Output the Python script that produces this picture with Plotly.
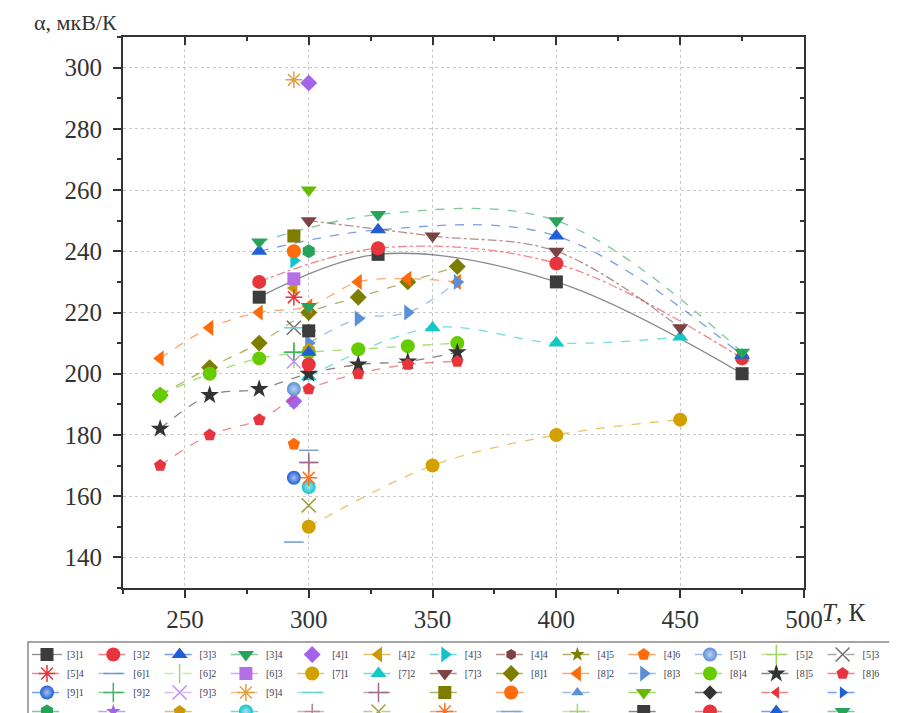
import plotly.graph_objects as go

# ---------------- data ----------------
SERIES_NAMES = ['[3]1', '[3]2', '[3]3', '[3]4', '[4]1', '[4]2', '[4]3', '[4]4', '[4]5', '[4]6', '[5]1', '[5]2', '[5]3',
                '[5]4', '[6]1', '[6]2', '[6]3', '[7]1', '[7]2', '[7]3', '[8]1', '[8]2', '[8]3', '[8]4', '[8]5', '[8]6',
                '[9]1', '[9]2', '[9]3', '[9]4', '', '', '', '', '', '', '', '', '',
                '', '', '', '', '', '', '', '', '', '', '', '', '']

T8 = [240, 260, 280, 300, 320, 340, 360]
T3 = [280, 328, 400, 475]
T7 = [300, 350, 400, 450]

SERIES_T = [
    T3, T3, T3, T3, [300, 294], [294], [294], [300], [294], [294], [294], [294], [294],
    [294], [294], [294], [294], T7, T7, T7, T8, T8, [300, 320, 340, 360], T8, T8, T8,
    [294], [294], [294], [294], [294], [300], [294], [294], [300], [300], [300], [300], [300],
    [300], [294], [300], [300], [300], [300], [300], [300], [294], [300], [300], [300], [300],
]
SERIES_A = [
    [225, 239, 230, 200], [230, 241, 236, 205], [240, 247, 245, 206], [243, 252, 250, 207],
    [295, 191], [228], [237], [240], [245], [177], [195], [207], [215],
    [225], [145], [205], [231], [150, 170, 180, 185], [199, 215, 210, 212], [250, 245, 240, 215],
    [193, 202, 210, 220, 225, 230, 235], [205, 215, 220, 222, 230, 231, 230], [210, 218, 220, 230],
    [193, 200, 205, 207, 208, 209, 210], [182, 193, 195, 200, 203, 204, 207], [170, 180, 185, 195, 200, 203, 204],
    [166], [207], [204], [296], [215], [171], [245], [240], [207], [260], [214], [201], [210],
    [240], [191], [208], [163], [171], [157], [166], [175], [207], [214], [203], [207], [222],
]
# series hidden behind other marks in the picture (drawn first, a bit smaller)
HIDDEN = [7, 8, 34, 36, 37, 38, 40, 43, 47]

X_TICKS = [250, 300, 350, 400, 450, 500]
Y_TICKS = [140, 160, 180, 200, 220, 240, 260, 280, 300]

# ---------------- styles ----------------
STYLE = [
    ('#3c3c3c', 'square'), ('#e8343c', 'circle'), ('#1f5fd8', 'triangle-up'), ('#27a35a', 'triangle-down'),
    ('#a463e8', 'diamond'), ('#cc9a00', 'triangle-left'), ('#11c4cc', 'triangle-right'), ('#7b4343', 'hexagon'),
    ('#7d7d00', 'star'), ('#ff6a0a', 'pentagon'), ('#5b8fd6', 'sphere'), ('#a4d468', 'cross-thin-open'),
    ('#707070', 'x-thin-open'),
    ('#e8343c', 'asterisk-open'), ('#6c9ad8', 'line-ew-open'), ('#a4d468', 'line-ns-open'), ('#b46ee6', 'square'),
    ('#d4a000', 'circle'), ('#14c8c8', 'triangle-up'), ('#7b4343', 'triangle-down'), ('#7d7d00', 'diamond'),
    ('#ff6a0a', 'triangle-left'), ('#5b8fd6', 'triangle-right'), ('#66cc00', 'circle'), ('#333333', 'star'),
    ('#e8343c', 'pentagon'),
    ('#1f5fd8', 'sphere'), ('#3cb464', 'cross-thin-open'), ('#c090f0', 'x-thin-open'), ('#e0a040', 'asterisk-open'),
    ('#66d0d0', 'line-ew-open'), ('#a06888', 'cross-thin-open'), ('#7d7d00', 'square'), ('#ff6a0a', 'circle'),
    ('#5b8fd6', 'triangle-up'), ('#66bb00', 'triangle-down'), ('#333333', 'diamond'), ('#e8343c', 'triangle-left'),
    ('#1f5fd8', 'triangle-right'),
    ('#27a35a', 'hexagon'), ('#a463e8', 'star'), ('#cc9a00', 'pentagon'), ('#11c4cc', 'sphere'),
    ('#c08098', 'cross-thin-open'), ('#a0a040', 'x-thin-open'), ('#ff7020', 'asterisk-open'),
    ('#80a0d8', 'line-ew-open'), ('#a4d468', 'cross-thin-open'), ('#3c3c3c', 'square'), ('#e8343c', 'circle'),
    ('#1f5fd8', 'triangle-up'), ('#27a35a', 'triangle-down'),
]
DASH = {0: 'solid', 1: 'dashdot', 2: 'dash', 3: 'dash', 17: 'dash', 18: 'dash', 19: 'dashdot',
        20: 'dash', 21: 'dash', 22: 'dash', 23: 'dash', 24: 'dash', 25: 'dash'}


def rgba(h, a):
    h = h.lstrip('#')
    return 'rgba(%d,%d,%d,%.2f)' % (int(h[0:2], 16), int(h[2:4], 16), int(h[4:6], 16), a)


def lighten(h, f):
    h = h.lstrip('#')
    c = [int(h[k:k + 2], 16) for k in (0, 2, 4)]
    c = [int(v + (255 - v) * f) for v in c]
    return '#%02x%02x%02x' % tuple(c)


OFF = 8  # page body margin of the browser
W, H = 897, 713
L, R, TOP, BOT = 123 - OFF, 804 - OFF, 37 - OFF, 588 - OFF
PW, PH = R - L, BOT - TOP
NCOL = 13


def px_x(x):
    return (x - OFF - L) / PW


def px_y(y):
    return (BOT - (y - OFF)) / PH


fig = go.Figure()
order = HIDDEN + [i for i in range(len(SERIES_NAMES)) if i not in HIDDEN]
for i in order:
    name = SERIES_NAMES[i]
    col, sym = STYLE[i]
    size = 14
    marker = dict(color=col, line=dict(width=0, color=col))
    if sym == 'sphere':
        marker['symbol'] = 'circle'
        marker['gradient'] = dict(type='radial', color=lighten(col, 0.6))
    else:
        marker['symbol'] = sym
        if sym.endswith('-open'):
            marker['line'] = dict(width=1.5, color=col)
        if sym in ('square', 'diamond', 'pentagon'):
            size = 13
    if i in HIDDEN:
        size = 11
    marker['size'] = size
    mode = 'markers' if i == 4 else 'lines+markers'
    leg = 'legend' if (i % NCOL) == 0 else 'legend%d' % (i % NCOL + 1)
    fig.add_trace(go.Scatter(
        x=SERIES_T[i], y=SERIES_A[i], name=name, mode=mode,
        line=dict(color=rgba(col, 0.6), width=1.3, shape='spline', dash=DASH.get(i, 'dash')),
        marker=marker, legend=leg, legendrank=i + 1, showlegend=True,
    ))

# carrier for the mirrored (inside) ticks on the top and right frame
fig.add_trace(go.Scatter(x=[], y=[], xaxis='x2', yaxis='y2', showlegend=False, hoverinfo='skip'))

# legends laid out as 13 columns x 4 rows
legends = {}
for j in range(NCOL):
    key = 'legend' if j == 0 else 'legend%d' % (j + 1)
    legends[key] = dict(
        x=px_x(27 + 66.3 * j), xanchor='left',
        y=px_y(640), yanchor='top',
        orientation='v', bgcolor='rgba(0,0,0,0)', borderwidth=0,
        tracegroupgap=0, traceorder='normal',
        font=dict(family='Liberation Serif', size=10, color='#3b3b55'),
    )

axis_font = dict(family='Liberation Serif', size=25, color='#333333')
minor_x = dict(dtick=25, tick0=225, ticklen=4, tickwidth=1.5, tickcolor='#333', showgrid=False)
minor_y = dict(dtick=10, tick0=130, ticklen=4, tickwidth=1.5, tickcolor='#333', showgrid=False)
fig.update_layout(
    width=W, height=H,
    margin=dict(l=L, r=W - R, t=TOP, b=H - BOT, autoexpand=False),
    paper_bgcolor='white', plot_bgcolor='white',
    showlegend=True,
    xaxis=dict(range=[225, 500], tickvals=X_TICKS, ticks='outside', ticklen=8, tickwidth=2,
               tickcolor='#333', showline=True, linewidth=2, linecolor='#333', mirror=True,
               showgrid=True, gridcolor='#c8c8c8', griddash='dot', gridwidth=1,
               tickfont=axis_font, zeroline=False, minor=dict(ticks='outside', **minor_x)),
    yaxis=dict(range=[130, 310], tickvals=Y_TICKS, ticks='outside', ticklen=8, tickwidth=2,
               tickcolor='#333', showline=True, linewidth=2, linecolor='#333', mirror=True,
               showgrid=True, gridcolor='#c8c8c8', griddash='dot', gridwidth=1,
               tickfont=axis_font, zeroline=False, ticklabelstandoff=6,
               minor=dict(ticks='outside', **minor_y)),
    xaxis2=dict(overlaying='x', side='top', anchor='y2', range=[225, 500], tickvals=X_TICKS, ticks='inside',
                ticklen=8, tickwidth=2, tickcolor='#333', showticklabels=False, showgrid=False,
                zeroline=False, showline=False, minor=dict(ticks='inside', **minor_x)),
    yaxis2=dict(overlaying='y', side='right', anchor='x2', range=[130, 310], tickvals=Y_TICKS, ticks='inside',
                ticklen=8, tickwidth=2, tickcolor='#333', showticklabels=False, showgrid=False,
                zeroline=False, showline=False, minor=dict(ticks='inside', **minor_y)),
    annotations=[
        dict(text='α, мкВ/К', xref='paper', yref='paper', x=px_x(118), y=px_y(8.5),
             xanchor='right', yanchor='top', showarrow=False, borderpad=0,
             font=dict(family='Liberation Serif', size=22, color='#333')),
        dict(text='<i>T</i>, К', xref='paper', yref='paper', x=px_x(820), y=px_y(612),
             xanchor='left', yanchor='middle', showarrow=False,
             font=dict(family='Liberation Serif', size=25, color='#333')),
    ],
    shapes=[dict(type='rect', xref='paper', yref='paper', x0=px_x(28), x1=px_x(898),
                 y0=px_y(642), y1=px_y(760), line=dict(color='#888', width=1.5),
                 fillcolor='rgba(0,0,0,0)', layer='below')],
    **legends,
)

fig.write_html('out.html')
